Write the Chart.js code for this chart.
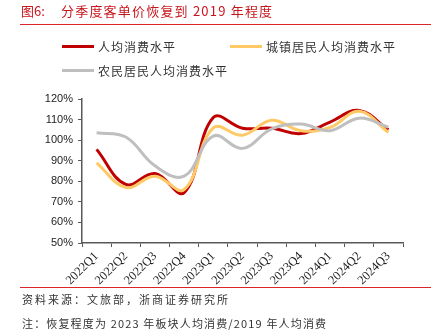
<!DOCTYPE html>
<html><head><meta charset="utf-8">
<script src="https://cdn.jsdelivr.net/npm/chart.js@4.4.1/dist/chart.umd.min.js"></script>
<style>
html,body{margin:0;padding:0;background:#fff;}
#wrap{position:relative;width:444px;height:332px;overflow:hidden;font-family:"Noto Sans CJK SC",sans-serif;}
canvas{position:absolute;left:0;top:0;}
.t{position:absolute;white-space:nowrap;}
.hr{position:absolute;left:20px;width:411px;height:1px;background:#d9262b;}
.lg{position:absolute;height:3px;width:32px;}
</style></head><body>
<div id="wrap">
<canvas id="c" width="444" height="332"></canvas>
<div class="t" style="left:21px;top:1px;font-size:13px;color:#c8161d;">图6:</div>
<div class="t" style="left:61px;top:1px;font-size:13px;letter-spacing:1.2px;color:#c8161d;">分季度客单价恢复到 2019 年程度</div>
<div class="hr" style="top:24px;"></div>
<div class="lg" style="left:62px;top:45px;background:#c00000;"></div>
<div class="t" style="left:98px;top:38px;font-size:12px;letter-spacing:1px;color:#333;">人均消费水平</div>
<div class="lg" style="left:230px;top:45px;background:#ffc966;"></div>
<div class="t" style="left:266px;top:38px;font-size:12px;letter-spacing:1px;color:#333;">城镇居民人均消费水平</div>
<div class="lg" style="left:62px;top:69px;background:#bfbfbf;"></div>
<div class="t" style="left:98px;top:62px;font-size:12px;letter-spacing:1px;color:#333;">农民居民人均消费水平</div>
<div class="hr" style="top:287px;"></div>
<div class="t" style="left:22px;top:291px;font-size:11px;letter-spacing:2.0px;color:#333;">资料来源：文旅部，浙商证券研究所</div>
<div class="t" style="left:22px;top:315px;font-size:11px;letter-spacing:1.15px;color:#333;">注：恢复程度为 2023 年板块人均消费/2019 年人均消费</div>
</div>
<script>
const categories = ["2022Q1","2022Q2","2022Q3","2022Q4","2023Q1","2023Q2","2023Q3","2023Q4","2024Q1","2024Q2","2024Q3"];
const perCapita = [95.5, 78.5, 83.8, 74.5, 111.0, 105.8, 105.8, 103.2, 108.8, 114.4, 105.0];
const urban     = [89.0, 77.0, 82.5, 76.0, 106.0, 102.4, 109.7, 104.6, 106.2, 114.0, 103.8];
const rural     = [103.6, 101.5, 87.5, 82.5, 102.0, 96.0, 105.5, 107.8, 104.6, 110.7, 106.3];
const yTicks = [50, 60, 70, 80, 90, 100, 110, 120];

const axisColor = '#595959';
new Chart(document.getElementById('c'), {
  type: 'line',
  data: {
    labels: categories,
    datasets: [
      {label:'农民居民人均消费水平', data: rural, borderColor:'#bfbfbf', borderWidth:3, pointRadius:0, tension:0.4, fill:false},
      {label:'城镇居民人均消费水平', data: urban, borderColor:'#ffc966', borderWidth:3, pointRadius:0, tension:0.4, fill:false},
      {label:'人均消费水平', data: perCapita, borderColor:'#c00000', borderWidth:3, pointRadius:0, tension:0.4, fill:false}
    ]
  },
  options: {
    responsive:false, animation:false, devicePixelRatio:1,
    layout:{padding:{left:0, right:41, top:99, bottom:40}},
    plugins:{legend:{display:false}, tooltip:{enabled:false}, title:{display:false}},
    scales:{
      x:{
        offset:true,
        grid:{display:true, offset:true, drawOnChartArea:false, drawTicks:true, tickLength:4, color:axisColor, lineWidth:1},
        border:{display:true, color:axisColor, width:1.5},
        ticks:{maxRotation:45, minRotation:45, autoSkip:false, color:'#222', padding:2,
               font:{family:'"Liberation Serif", serif', size:12.5}},
        afterFit(s){ s.height = 332 - 40 - 243; }
      },
      y:{
        min:50, max:120,
        afterBuildTicks(s){ s.ticks = yTicks.map(v=>({value:v})); },
        grid:{display:true, drawOnChartArea:false, drawTicks:true, tickLength:4, color:axisColor},
        border:{display:true, color:axisColor, width:1.5},
        ticks:{color:'#222', padding:5, font:{family:'"Liberation Sans", Arial, sans-serif', size:11},
               callback:(v)=>v+'%'},
        afterFit(s){ s.width = 82; }
      }
    }
  }
});
</script>
</body></html>
